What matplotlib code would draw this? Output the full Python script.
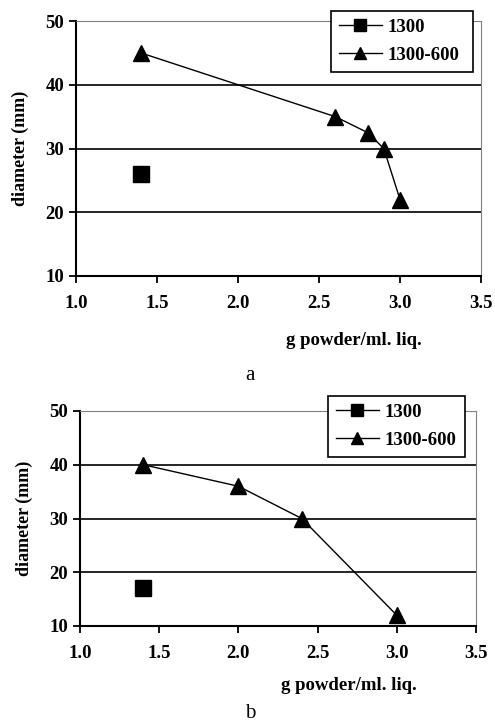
import matplotlib.pyplot as plt

# panel a
xa_1300 = [1.4]
ya_1300 = [26]
xa_600 = [1.4, 2.6, 2.8, 2.9, 3.0]
ya_600 = [45, 35, 32.5, 30, 22]

# panel b
xb_1300 = [1.4]
yb_1300 = [17]
xb_600 = [1.4, 2.0, 2.4, 3.0]
yb_600 = [40, 36, 30, 12]

xticks = [1.0, 1.5, 2.0, 2.5, 3.0, 3.5]
yticks = [10, 20, 30, 40, 50]

plt.rcParams['font.family'] = ['Liberation Serif', 'DejaVu Serif']
plt.rcParams['font.weight'] = 'bold'

fig = plt.figure(figsize=(4.95, 7.27), dpi=100)
W, H = 495, 727


def panel(rect, x1, y1, x2, y2, leg_box, xlab_xy, letter, letter_y):
    l, t, r, b = rect
    ax = fig.add_axes([l / W, 1 - b / H, (r - l) / W, (b - t) / H])
    ax.plot(x1, y1, 's', color='black', markersize=11, label='1300', linestyle='-', linewidth=1)
    ax.plot(x2, y2, '^', color='black', markersize=11, label='1300-600', linestyle='-', linewidth=1)
    ax.set_xlim(1.0, 3.5)
    ax.set_ylim(10, 50)
    ax.set_xticks(xticks)
    ax.set_xticklabels(['%.1f' % v for v in xticks])
    ax.set_yticks(yticks)
    for v in [20, 30, 40]:
        ax.axhline(v, color='black', linewidth=1.2, zorder=0)
    ax.spines['left'].set_linewidth(1.5)
    ax.spines['bottom'].set_linewidth(1.5)
    ax.spines['top'].set_color('#808080')
    ax.spines['right'].set_color('#808080')
    ax.tick_params(direction='out', length=5, width=1.3, labelsize=13.5)
    ax.tick_params(axis='x', pad=9)
    ax.tick_params(top=False, right=False)
    ax.set_ylabel('diameter (mm)', fontsize=13, fontweight='bold', labelpad=12)
    fig.text(xlab_xy[0] / W, 1 - xlab_xy[1] / H, 'g powder/ml. liq.', fontsize=13.5,
             fontweight='bold', ha='center', va='center')
    fig.text(250 / W, 1 - letter_y / H, letter, fontsize=15, fontweight='normal',
             ha='center', va='center')
    bl, bt, br, bb = leg_box
    leg = ax.legend(loc='upper left', bbox_to_anchor=((bl - l) / (r - l), (b - bb) / (b - t),
                                                     (br - bl) / (r - l), (bb - bt) / (b - t)),
                    mode='expand', fancybox=False, framealpha=1, edgecolor='black',
                    fontsize=13.5, handlelength=2.3, handletextpad=0.3, borderpad=0.4,
                    labelspacing=0.6, borderaxespad=0, markerscale=0.85)
    leg.get_frame().set_linewidth(1.2)
    for tx in leg.get_texts():
        tx.set_fontweight('bold')
    return ax


panel((76, 21, 481, 276), xa_1300, ya_1300, xa_600, ya_600, (331, 11, 473, 75), (354, 340), 'a', 375)
panel((80, 411, 476, 626), xb_1300, yb_1300, xb_600, yb_600, (328, 396, 465, 458), (349, 685), 'b', 714)

fig.savefig('out.png', dpi=100)
